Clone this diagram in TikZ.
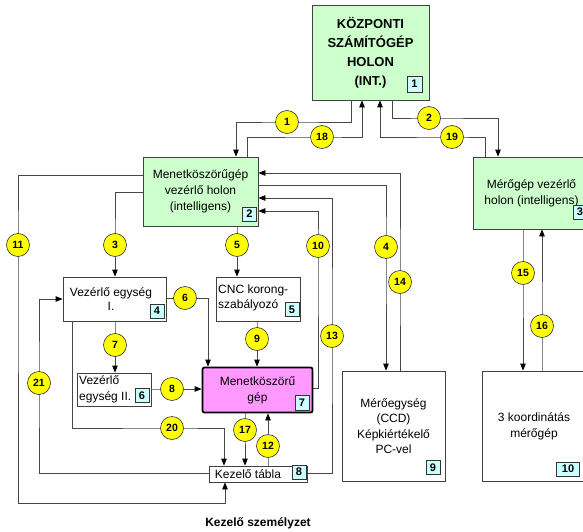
\documentclass[tikz,border=0pt]{standalone}
\usepackage{fontspec}
\setmainfont{Liberation Sans}
\usetikzlibrary{arrows.meta,calc}
\definecolor{boxgreen}{HTML}{CCFFCC}
\definecolor{badgeblue}{HTML}{CCFFFF}
\definecolor{machpink}{HTML}{FF99FF}
\definecolor{circyellow}{HTML}{FFFF00}
\tikzset{
  ln/.style={draw=black!72, line width=0.8pt},
  arr/.style={ln, -{Triangle[length=7pt,width=5.5pt,color=black]}},
  box/.style={draw=black!75, line width=0.8pt, inner sep=0pt, align=center,
              font=\fontsize{12}{16}\selectfont},
  greenbox/.style={box, fill=boxgreen},
  whitebox/.style={box, fill=white},
  txt/.style={inner sep=0pt, font=\fontsize{12}{16}\selectfont},
  num/.style={circle, draw=black!80, fill=circyellow, line width=0.6pt,
              minimum size=23pt, inner sep=0pt,
              font=\fontsize{10.5}{12}\selectfont\bfseries},
  badge/.style={draw=black!80, fill=badgeblue, line width=0.6pt,
                minimum width=14pt, minimum height=14pt, inner sep=0pt,
                font=\fontsize{11}{12}\selectfont\bfseries}
}
\begin{document}
\begin{tikzpicture}[x=1pt,y=-1pt]
\useasboundingbox (0,0) rectangle (583,532);
\fill[white] (0,0) rectangle (583,532);

% boxes
\node[greenbox, minimum width=117pt, minimum height=95pt,
      font=\fontsize{13}{19}\selectfont\bfseries] (b1) at (370.5,52.5)
      {KÖZPONTI\\SZÁMÍTÓGÉP\\HOLON\\(INT.)};
\node[greenbox, minimum width=115pt, minimum height=69pt] (b2) at (200.5,191.5)
      {Menetköszörűgép\\vezérlő holon\\(intelligens)};
\node[greenbox, minimum width=117pt, minimum height=72pt] (b3) at (531.5,193)
      {Mérőgép vezérlő\\holon (intelligens)};
\node[whitebox, minimum width=103pt, minimum height=44pt] (b4) at (114.5,299) {};
\node[txt, align=center, font=\fontsize{12}{14}\selectfont] (t4) at (111,299) {Vezérlő egység\\I.};
\node[whitebox, minimum width=84pt, minimum height=44pt] (b5) at (258,299) {};
\node[txt, align=left, anchor=west, font=\fontsize{12}{15}\selectfont] (t5) at (218,298) {CNC korong-\\szabályozó};
\node[whitebox, minimum width=74pt, minimum height=33pt] (b6) at (114,389.5) {};
\node[txt, align=left, anchor=west] (t6) at (79,389.5) {Vezérlő\\egység II.};
\node[box, fill=machpink, draw=black, line width=1.8pt, rounded corners=2pt,
      minimum width=110pt, minimum height=45pt] (b7) at (257.5,390)
      {Menetköszörű\\gép};
\node[whitebox, minimum width=98pt, minimum height=16pt] (b8) at (258,474) {};
\node[txt] (t8) at (248,474) {Kezelő tábla};
\node[whitebox, minimum width=103pt, minimum height=110pt,
      font=\fontsize{12}{15.5}\selectfont] (b9) at (393.5,426)
      {Mérőegység\\(CCD)\\Képkiértékelő\\PC-vel};
\node[whitebox, minimum width=103pt, minimum height=110pt] (b10) at (534,426)
      {3 koordinátás\\mérőgép};

% badges
\node[badge, minimum width=15pt, minimum height=16pt] (g1) at (414.5,84) {1};
\node[badge] (g2) at (249.5,214) {2};
\node[badge] (g3) at (580,212) {3};
\node[badge] (g4) at (157,311) {4};
\node[badge] (g5) at (292,309.5) {5};
\node[badge] (g6) at (142,395.5) {6};
\node[badge, minimum height=15pt] (g7) at (302,403) {7};
\node[badge] (g8) at (299,472) {8};
\node[badge] (g9) at (433,467.5) {9};
\node[badge, minimum width=23pt] (g10) at (568,469) {10};

% number circles (positions)
\coordinate (c1) at (287,122);
\coordinate (c2) at (429,118);
\coordinate (c3) at (115,245);
\coordinate (c4) at (386,247);
\coordinate (c5) at (237,245);
\coordinate (c6) at (185,298);
\coordinate (c7) at (115,345);
\coordinate (c8) at (172,389);
\coordinate (c9) at (257,339);
\coordinate (c10) at (318,246);
\coordinate (c11) at (18,245);
\coordinate (c12) at (268,446);
\coordinate (c13) at (332,336);
\coordinate (c14) at (400,282);
\coordinate (c15) at (523,273);
\coordinate (c16) at (542,326);
\coordinate (c17) at (245,430);
\coordinate (c18) at (322,137);
\coordinate (c19) at (452,137);
\coordinate (c20) at (172,428);
\coordinate (c21) at (39,383);

% connectors
\draw[arr] (b1.south -| 351,0) |- (c1) -| (b2.north -| 236,0);
\draw[arr] (b2.north -| 247,0) |- (c18) -| (b1.south -| 362,0);
\draw[arr] (b3.north -| 485,0) |- (c19) -| (b1.south -| 380,0);
\draw[arr] (b1.south -| 392,0) |- (c2) -| (b3.north -| 498,0);
\draw[arr] (b2.west |- 0,175) -| (c11) -- (c11 |- 0,503) -| (b8.south -| 225,0);
\draw[arr] (b2.west |- 0,192) -| (c3) -- (b4.north -| c3);
\draw[arr] (b2.south -| c5) -- (c5) -- (b5.north -| c5);
\draw[arr] (b2.east |- 0,185) -| (c4) -- (b9.north -| c4);
\draw[arr] (b9.north -| c14) -- (c14) |- (b2.east |- 0,173);
\draw[arr] (b8.east |- 0,473) -| (c13) |- (b2.east |- 0,198);
\draw[arr] (b7.east |- 0,388) -| (c10) |- (b2.east |- 0,211);
\draw[arr] (b3.south -| c15) -- (c15) -- (b10.north -| c15);
\draw[arr] (b10.north -| c16) -- (c16) -- (b3.south -| c16);
\draw[arr] (b4.east |- c6) -- (c6) -| (b7.north -| 208,0);
\draw[arr] (b5.south -| c9) -- (c9) -- (b7.north -| c9);
\draw[arr] (b4.south -| c7) -- (c7) -- (b6.north -| c7);
\draw[arr] (b6.east |- c8) -- (c8) -- (b7.west |- c8);
\draw[arr] (b4.south -| 72,0) |- (c20) -| (b8.north -| 224,0);
\draw[arr] (b8.west |- 0,473) -| (c21) |- (b4.west |- 0,299);
\draw[arr] (b7.south -| c17) -- (c17) -- (b8.north -| c17);
\draw[arr] (b8.north -| c12) -- (c12) -- (b7.south -| c12);

% circles on top
\foreach \i in {1,...,21} {
  \node[num] (n\i) at (c\i) {\i};
}

% caption
\node[inner sep=0pt, font=\fontsize{12}{14}\selectfont\bfseries] (cap) at (258,523) {Kezelő személyzet};
\end{tikzpicture}
\end{document}
